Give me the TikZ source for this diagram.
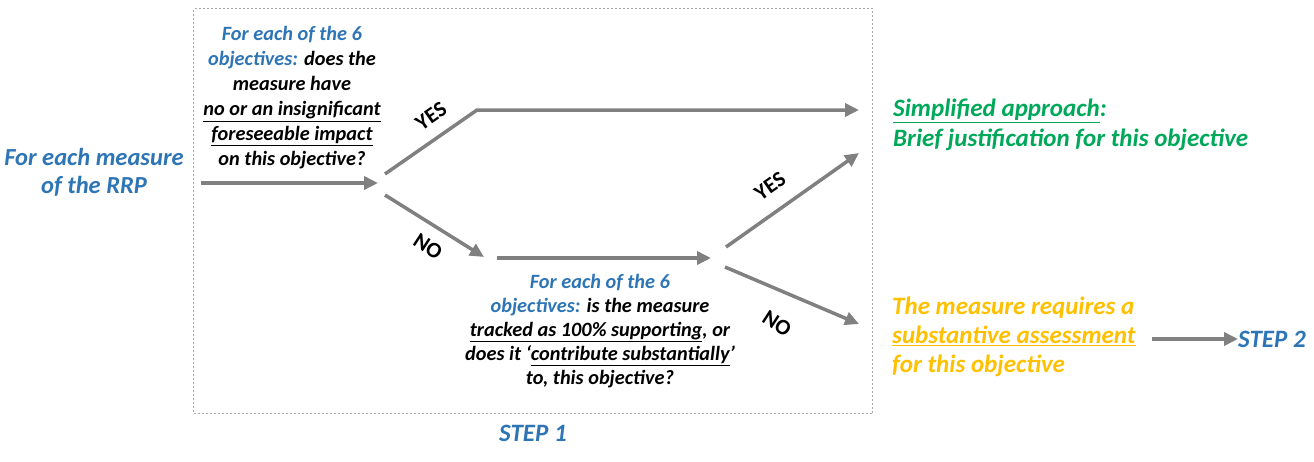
\documentclass[tikz,border=0pt]{standalone}
\usepackage{fontspec}
\setmainfont{Carlito}
\usetikzlibrary{arrows.meta}
\definecolor{cblue}{RGB}{46,117,182}
\definecolor{cgreen}{RGB}{0,168,89}
\definecolor{cyellow}{RGB}{255,192,0}
\definecolor{cgray}{RGB}{128,128,128}
\definecolor{cbox}{RGB}{170,170,170}
\tikzset{
  flow/.style={draw=cgray, line width=3.5pt, -{Triangle[length=14pt,width=13pt]}},
  txt/.style={font=\fontsize{20.3}{25}\selectfont\bfseries\itshape, align=center, inner sep=0pt},
  big/.style={font=\fontsize{25}{30}\selectfont\bfseries\itshape, inner sep=0pt},
  txtl/.style={big, align=left, anchor=west},
  lbl/.style={font=\fontsize{22}{22}\selectfont\bfseries, inner sep=0pt},
  stepbox/.style={draw=cbox, line width=1.3pt, dash pattern=on 2pt off 2pt}
}
\begin{document}
\begin{tikzpicture}[x=1pt,y=1pt]
\useasboundingbox (0,0) rectangle (1314,-461);
\node[stepbox, minimum width=679pt, minimum height=405pt, anchor=north west] (box) at (193,-8) {};
\node[big, align=center, font=\fontsize{24.5}{28}\selectfont\bfseries\itshape, text=cblue] (start) at (94,-172) {For each measure\\of the RRP};
\node[txt] (q1) at (292,-98) {\textcolor{cblue}{For each of the 6}\\\textcolor{cblue}{objectives:} does the\\measure have\\\underline{no or an insignificant}\\\underline{foreseeable impact}\\on this objective?};
\node[txt, font=\fontsize{20.3}{24}\selectfont\bfseries\itshape] (q2) at (600,-331) {\textcolor{cblue}{For each of the 6}\\\textcolor{cblue}{objectives:} is the measure\\\underline{tracked as 100\% supporting}, or\\does it ‘\underline{contribute substantially}’\\to, this objective?};
\node[txtl, text=cgreen] (simp) at (893,-125) {\underline{Simplified approach}:\\Brief justification for this objective};
\node[txtl, font=\fontsize{25}{29}\selectfont\bfseries\itshape, text=cyellow] (subst) at (892,-337) {The measure requires a\\\underline{substantive assessment}\\for this objective};
\node[big, text=cblue, anchor=west] (step2) at (1238,-339) {STEP 2};
\node[big, text=cblue] (step1) at (533,-433) {STEP 1};
% junction coordinates
\coordinate (a1s) at (201,-183);
\coordinate (j1) at (378,-183);
\coordinate (y1s) at (385,-174);
\coordinate (y1c) at (477,-110);
\coordinate (y1e) at (859,-110);
\coordinate (n1s) at (385,-195);
\coordinate (n1e) at (484,-257);
\coordinate (h2s) at (497,-258);
\coordinate (j2) at (711,-258);
\coordinate (y2s) at (726,-247);
\coordinate (y2e) at (859,-153);
\coordinate (n2s) at (725,-267);
\coordinate (n2e) at (859,-324);
\coordinate (s2s) at (1152,-339);
\draw[flow] (a1s) -- (j1);
\draw[flow] (y1s) -- (y1c) -- (y1e);
\draw[flow] (n1s) -- (n1e);
\draw[flow] (h2s) -- (j2);
\draw[flow] (y2s) -- (y2e);
\draw[flow] (n2s) -- (n2e);
\draw[flow] (s2s) -- (step2.west);
\node[lbl, rotate=35] (yes1) at (431,-116) {YES};
\node[lbl, rotate=-33] (no1) at (428,-247) {NO};
\node[lbl, rotate=35] (yes2) at (770,-186) {YES};
\node[lbl, rotate=-33] (no2) at (777,-324) {NO};
\end{tikzpicture}
\end{document}
